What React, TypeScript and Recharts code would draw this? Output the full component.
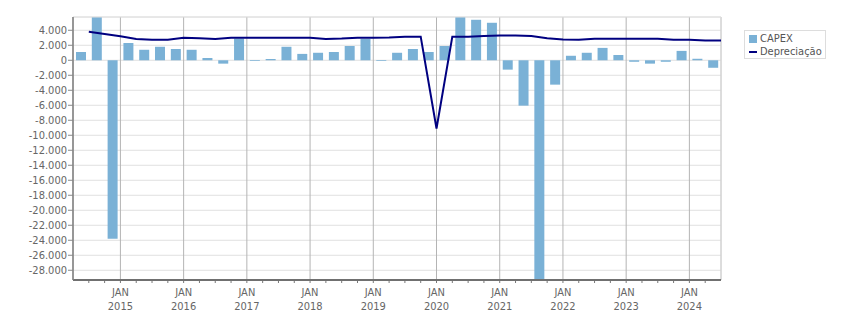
import { ComposedChart, Bar, Line, XAxis, YAxis, CartesianGrid, ReferenceLine } from 'recharts';

// quarters, Q2 2014 .. Q2 2024
const quarters = [
  '2014-2', '2014-3', '2014-4',
  '2015-1', '2015-2', '2015-3', '2015-4',
  '2016-1', '2016-2', '2016-3', '2016-4',
  '2017-1', '2017-2', '2017-3', '2017-4',
  '2018-1', '2018-2', '2018-3', '2018-4',
  '2019-1', '2019-2', '2019-3', '2019-4',
  '2020-1', '2020-2', '2020-3', '2020-4',
  '2021-1', '2021-2', '2021-3', '2021-4',
  '2022-1', '2022-2', '2022-3', '2022-4',
  '2023-1', '2023-2', '2023-3', '2023-4',
  '2024-1', '2024-2',
];

const capex = [
  1100, 5770, -23800,
  2300, 1400, 1800, 1500,
  1400, 300, -450, 2900,
  -100, 170, 1800, 850,
  1000, 1100, 1900, 2850,
  -100, 1000, 1500, 1100,
  1900, 5770, 5400, 5000,
  -1250, -6050, -29300, -3250,
  600, 1000, 1650, 700,
  -200, -450, -200, 1250,
  200, -1000,
];

const depreciacao = [
  3800, 3500, 3200,
  2850, 2750, 2750, 3000,
  2950, 2850, 3000, 3000,
  3000, 3000, 3000, 3000,
  2850, 2900, 3000, 3000,
  3050, 3150, 3150, -9100,
  3150, 3150, 3250, 3300,
  3300, 3250, 2950, 2780,
  2750, 2880, 2880, 2880,
  2880, 2880, 2750, 2750,
  2620, 2620,
];

const years = [2015, 2016, 2017, 2018, 2019, 2020, 2021, 2022, 2023, 2024];
const yTicks = [4000, 2000, 0, -2000, -4000, -6000, -8000, -10000, -12000, -14000, -16000, -18000, -20000, -22000, -24000, -26000, -28000];

const X_MIN = 2014.25;
const X_MAX = 2024.5;
const Y_MIN = -29300;
const Y_MAX = 5770;

const FONT = '"DejaVu Sans Condensed", "DejaVu Sans", sans-serif';
const TEXT = '#666';
const BAR = '#7ab1d6';
const LINE = '#000080';

const qStart = (q: string) => Number(q.slice(0, 4)) + (Number(q.slice(5)) - 1) / 4;

// bars sit mid-quarter, the depreciation line at quarter end
const barData = quarters.map((q, i) => ({ x: qStart(q) + 0.125, capex: capex[i] }));
const lineData = quarters.map((q, i) => ({ x: qStart(q) + 0.25, dep: depreciacao[i] }));

const quarterTicks = quarters.slice(1).map(qStart);

const fmt = (v: number) => {
  const s = Math.abs(v).toString().replace(/\B(?=(\d{3})+(?!\d))/g, '.');
  return v < 0 ? '-' + s : s;
};

const XTick = (props: any) => {
  const { x, y, payload } = props;
  const v = payload.value;
  const isYear = Math.abs(v - Math.round(v)) < 1e-6;
  return (
    <g>
      <line x1={x} x2={x} y1={y + 1} y2={y + 3} stroke="#777" />
      {isYear && (
        <>
          <text x={x} y={y + 16} textAnchor="middle" fill={TEXT} fontSize={11} fontFamily={FONT}>JAN</text>
          <text x={x} y={y + 30} textAnchor="middle" fill={TEXT} fontSize={11} fontFamily={FONT}>{Math.round(v)}</text>
        </>
      )}
    </g>
  );
};

export default function App() {
  return (
    <div style={{ position: 'absolute', left: 0, top: 0, width: 851, height: 313, background: '#fff' }}>
      <ComposedChart width={851} height={313} data={barData} margin={{ top: 17, right: 130, bottom: 0, left: 0 }}>
        <CartesianGrid vertical={false} stroke="#e0e0e0" />
        <CartesianGrid horizontal={false} xAxisId="yr" stroke="#b4b4b4" />
        <XAxis
          dataKey="x"
          type="number"
          domain={[X_MIN, X_MAX]}
          ticks={quarterTicks}
          interval={0}
          height={33}
          tickSize={0}
          tickMargin={0}
          tickLine={false}
          tick={<XTick />}
          axisLine={{ stroke: '#707070', strokeWidth: 2 }}
          allowDataOverflow
        />
        <XAxis xAxisId="yr" dataKey="x" type="number" domain={[X_MIN, X_MAX]} ticks={years} hide allowDataOverflow />
        <YAxis
          width={73}
          domain={[Y_MIN, Y_MAX]}
          ticks={yTicks}
          interval={0}
          allowDataOverflow
          tickFormatter={fmt}
          tickSize={5}
          tickMargin={1}
          tick={{ fill: TEXT, fontSize: 11, fontFamily: FONT }}
          tickLine={{ stroke: '#888' }}
          axisLine={{ stroke: '#808080', strokeWidth: 1.5 }}
        />
        <ReferenceLine y={Y_MAX} stroke="#e0e0e0" />
        <ReferenceLine x={X_MAX} stroke="#e0e0e0" />
        <Bar dataKey="capex" fill={BAR} barSize={10} isAnimationActive={false} />
        <Line
          data={lineData}
          xAxisId="yr"
          dataKey="dep"
          type="linear"
          stroke={LINE}
          strokeWidth={2}
          dot={false}
          isAnimationActive={false}
        />
      </ComposedChart>
      <div
        style={{
          position: 'absolute',
          left: 744,
          top: 30,
          width: 80,
          height: 27,
          border: '1px solid #ddd',
          fontFamily: FONT,
          fontSize: 11,
          color: '#555',
          lineHeight: '13px',
        }}
      >
        <div style={{ display: 'flex', alignItems: 'center', paddingLeft: 4, marginTop: 1 }}>
          <span style={{ display: 'inline-block', width: 8, height: 8, background: BAR, marginRight: 3 }} />
          CAPEX
        </div>
        <div style={{ display: 'flex', alignItems: 'center', paddingLeft: 4 }}>
          <span style={{ display: 'inline-block', width: 8, height: 2, background: LINE, marginRight: 3 }} />
          Depreciação
        </div>
      </div>
    </div>
  );
}
